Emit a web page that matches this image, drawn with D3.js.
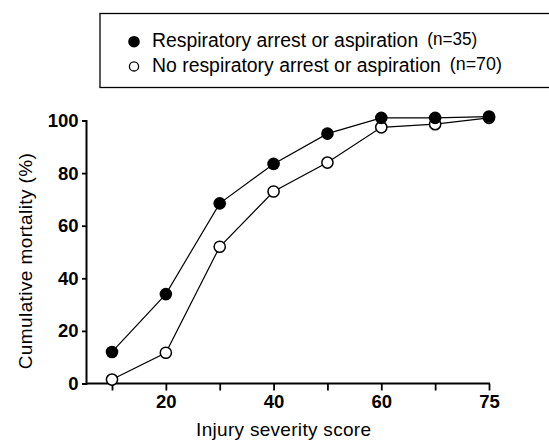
<!DOCTYPE html>
<html>
<head>
<meta charset="utf-8">
<script src="https://cdn.jsdelivr.net/npm/d3@7"></script>
<style>
  html, body { margin: 0; padding: 0; background: #fff; }
  svg { display: block; }
</style>
</head>
<body>
<svg id="chart" width="549" height="441"></svg>
<script>
// ---- data ----
const categories = ["10", "20", "30", "40", "50", "60", "70", "75"];
const xTickLabels = ["20", "40", "60", "75"];
const yTickValues = [0, 20, 40, 60, 80, 100];
const arrestValues = [12, 34, 68.5, 83.5, 95, 101, 101, 101.5];
const noArrestValues = [1.5, 11.7, 52, 73, 84, 97.4, 98.6, 101];
const seriesNames = ["Respiratory arrest or aspiration", "No respiratory arrest or aspiration"];
const seriesCounts = ["(n=35)", "(n=70)"];
const xTitle = "Injury severity score";
const yTitle = "Cumulative mortality (%)";

const svg = d3.select("#chart");
const font = "'Liberation Sans', Arial, Helvetica, sans-serif";

const axisX0 = 86;
const x = d3.scalePoint().domain(categories).range([112, 489]);
const y = d3.scaleLinear().domain([0, 100]).range([383.5, 120.5]);

// ---- legend ----
const leg = svg.append("g");
leg.append("rect")
  .attr("x", 100).attr("y", 13.5).attr("width", 470).attr("height", 74)
  .attr("fill", "none").attr("stroke", "#000").attr("stroke-width", 1.3);
const legRows = [
  { name: seriesNames[0], n: seriesCounts[0], filled: true, cy: 41.7, base: 46.8, nlen: 50 },
  { name: seriesNames[1], n: seriesCounts[1], filled: false, cy: 66.4, base: 71.8, nlen: 52 }
];
legRows.forEach(r => {
  leg.append("circle")
    .attr("cx", 134).attr("cy", r.cy)
    .attr("r", r.filled ? 5.8 : 4.6)
    .attr("fill", r.filled ? "#000" : "#fff")
    .attr("stroke", "#000").attr("stroke-width", r.filled ? 0 : 1.3);
  const t = leg.append("text")
    .attr("x", 152).attr("y", r.base)
    .attr("font-family", font).attr("font-size", 19.4)
    .attr("fill", "#000")
    .text(r.name);
  const w = t.node().getComputedTextLength();
  leg.append("text")
    .attr("x", 152 + w + 9).attr("y", r.base - 1.5)
    .attr("font-family", font).attr("font-size", 18.5)
    .attr("textLength", r.nlen).attr("lengthAdjust", "spacingAndGlyphs")
    .attr("fill", "#000")
    .text(r.n);
});

// ---- axes ----
const xAxis = d3.axisBottom(x)
  .tickSize(7).tickSizeOuter(0)
  .tickFormat(d => xTickLabels.includes(d) ? d : "");
const gx = svg.append("g").attr("transform", `translate(0,${y(0)})`).call(xAxis);
gx.select(".domain").remove();
gx.selectAll(".tick line").attr("stroke", "#000").attr("stroke-width", 1.8);
gx.selectAll(".tick text")
  .attr("font-family", font).attr("font-size", 18.5).attr("font-weight", "bold")
  .attr("fill", "#000").attr("dy", null).attr("y", 24.5);
gx.append("line")
  .attr("x1", axisX0).attr("x2", x.range()[1] + 1)
  .attr("y1", 0).attr("y2", 0)
  .attr("stroke", "#000").attr("stroke-width", 2);

const yAxis = d3.axisLeft(y).tickValues(yTickValues).tickSize(4).tickSizeOuter(4).tickPadding(3.5);
const gy = svg.append("g").attr("transform", `translate(${axisX0},0)`).call(yAxis);
gy.select(".domain").attr("stroke", "#000").attr("stroke-width", 2);
gy.selectAll(".tick line").attr("stroke", "#000").attr("stroke-width", 1.8);
gy.selectAll(".tick text")
  .attr("font-family", font).attr("font-size", 18.5).attr("font-weight", "bold")
  .attr("fill", "#000");

// ---- titles ----
svg.append("text")
  .attr("x", 283.7).attr("y", 436)
  .attr("text-anchor", "middle")
  .attr("font-family", font).attr("font-size", 19)
  .attr("letter-spacing", 0.3)
  .attr("fill", "#000")
  .text(xTitle);
svg.append("text")
  .attr("transform", "translate(31.5,261) rotate(-90)")
  .attr("text-anchor", "middle")
  .attr("font-family", font).attr("font-size", 19)
  .attr("letter-spacing", 0.4)
  .attr("fill", "#000")
  .text(yTitle);

// ---- series ----
const line = d3.line().x(d => x(d.c)).y(d => y(d.v));
const series = [
  { values: noArrestValues, filled: false },
  { values: arrestValues, filled: true }
];
series.forEach(s => {
  const pts = categories.map((c, i) => ({ c, v: s.values[i] }));
  svg.append("path").datum(pts)
    .attr("d", line).attr("fill", "none")
    .attr("stroke", "#000").attr("stroke-width", 1.2);
});
series.forEach(s => {
  const pts = categories.map((c, i) => ({ c, v: s.values[i] }));
  svg.append("g").selectAll("circle").data(pts).join("circle")
    .attr("cx", d => x(d.c)).attr("cy", d => y(d.v))
    .attr("r", s.filled ? 6.3 : 5.6)
    .attr("fill", s.filled ? "#000" : "#fff")
    .attr("stroke", "#000").attr("stroke-width", s.filled ? 0 : 1.5);
});
</script>
</body>
</html>
